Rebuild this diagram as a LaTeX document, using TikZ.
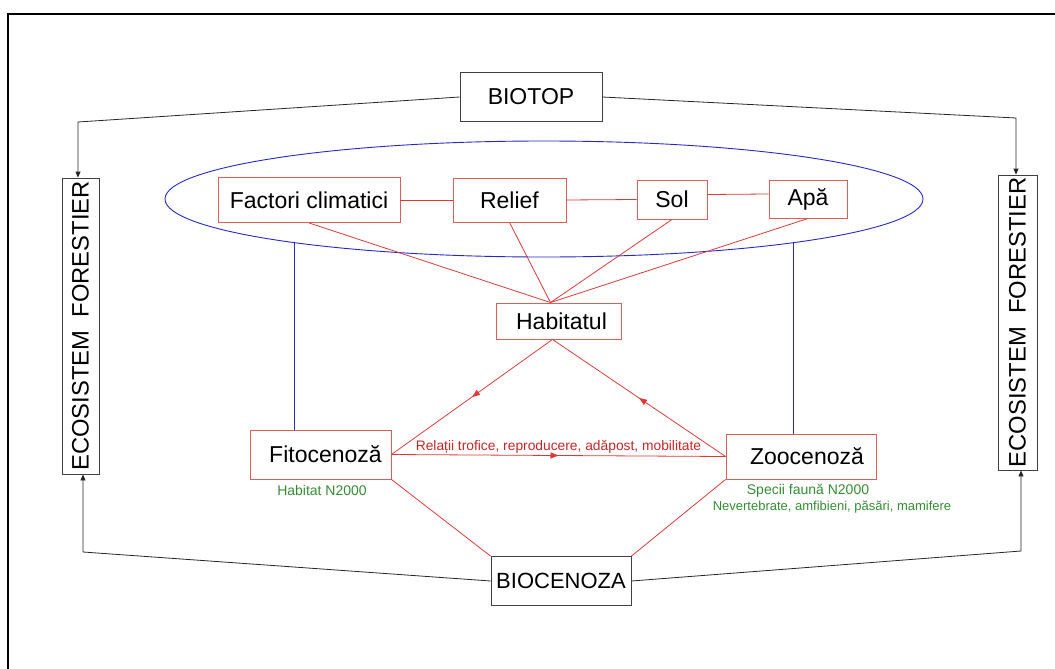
\documentclass[tikz,border=0pt]{standalone}
\usepackage{fontspec}
\setmainfont{Liberation Sans}
\usepackage{tikz}
\usetikzlibrary{shapes.geometric,arrows.meta,decorations.markings}

\definecolor{boxred}{RGB}{222,92,92}
\definecolor{linered}{RGB}{220,58,58}
\definecolor{textred}{RGB}{196,38,38}
\definecolor{textgreen}{RGB}{52,140,52}
\definecolor{ellblue}{RGB}{40,40,200}
\newcommand\setsz[1]{\fontsize{#1}{#1}\selectfont}

\tikzset{
  blackbox/.style={draw=black!75, line width=0.8pt, fill=white, inner sep=0pt},
  redbox/.style={draw=boxred, line width=0.9pt, fill=white, inner sep=0pt, font=\setsz{23}},
  blackline/.style={draw=black!85, line width=0.8pt},
  redline/.style={draw=linered, line width=0.8pt},
  blueline/.style={draw=ellblue, line width=0.8pt},
  greentext/.style={text=textgreen, inner sep=0pt, font=\setsz{14}},
  redtext/.style={text=textred, inner sep=0pt, font=\setsz{13.8}},
  tip/.style={-{Triangle[length=6pt,width=5pt]}},
  midarrow/.style={decoration={markings, mark=at position 0.5 with {\arrow{Triangle[length=8pt,width=6pt]}}}, postaction={decorate}}
}

\begin{document}
\begin{tikzpicture}[x=1pt,y=-1pt]
  \useasboundingbox (0,0) rectangle (1055,669);
  %Frame
  \draw[line width=2.5pt] (8,669) -- (8,14) -- (1055,14);

  %Ellipse of the biotop factors
  \node[ellipse, draw=ellblue, line width=0.9pt, minimum width=758pt, minimum height=116pt, inner sep=0pt] (ell) at (544,199) {};

  %Black boxes
  \node[blackbox, minimum width=142pt, minimum height=49pt, font=\setsz{23}] (biotop) at (531,97) {BIOTOP};
  \node[blackbox, minimum width=140pt, minimum height=49pt, font=\setsz{22}] (biocenoza) at (561,581) {BIOCENOZA};
  \node[blackbox, minimum width=37pt, minimum height=296pt, font=\setsz{23.8}] (ecoL) at (80.5,326) {\rotatebox{90}{ECOSISTEM\ \ FORESTIER}};
  \node[blackbox, minimum width=39pt, minimum height=295pt, font=\setsz{23.8}] (ecoR) at (1017.5,322.5) {\rotatebox{90}{ECOSISTEM\ \ FORESTIER}};

  %Red boxes
  \node[redbox, minimum width=182pt, minimum height=45pt] (factori) at (309,200) {Factori climatici};
  \node[redbox, minimum width=113pt, minimum height=44pt] (relief) at (509.5,200) {Relief};
  \node[redbox, minimum width=70pt, minimum height=39pt] (sol) at (672,199.5) {Sol};
  \node[redbox, minimum width=78pt, minimum height=38pt] (apa) at (808,199) {Apă};
  \node[redbox, minimum width=125pt, minimum height=36pt] (habitatul) at (558.5,321) {\hspace{6pt}Habitatul};
  \node[redbox, minimum width=141pt, minimum height=49pt] (fito) at (320.5,454.5) {\hspace{10pt}Fitocenoză};
  \node[redbox, minimum width=150pt, minimum height=45pt] (zoo) at (801,456.5) {\hspace{12pt}Zoocenoză};

  %Green notes
  \node[greentext] (habN) at (322,490) {Habitat N2000};
  \node[greentext] (specii) at (808,491) {Specii faună N2000};
  \node[greentext, font=\setsz{13}] (nevert) at (832,507) {Nevertebrate, amfibieni, păsări, mamifere};

  %Black connectors
  \coordinate (cTL) at (78,122);
  \coordinate (cTR) at (1016,118);
  \coordinate (cBL) at (83,552);
  \coordinate (cBR) at (1021,551);
  \draw[blackline, tip] (biotop.west) -- (cTL) -- (cTL |- ecoL.north);
  \draw[blackline, tip] (biotop.east) -- (cTR) -- (cTR |- ecoR.north);
  \draw[blackline, tip] (biocenoza.west) -- (cBL) -- (cBL |- ecoL.south);
  \draw[blackline, tip] (biocenoza.east) -- (cBR) -- (cBR |- ecoR.south);

  %Blue connectors
  \draw[blueline] (ell.190.75) -- (ell.190.75 |- fito.north);
  \draw[blueline] (ell.350.5) -- (ell.350.5 |- zoo.north);

  %Red connectors
  \coordinate (hTop) at ([xshift=-8pt]habitatul.north);
  \coordinate (hBot) at ([xshift=-6pt]habitatul.south);
  \foreach \a/\b in {factori/relief, relief/sol}
    \draw[redline] (\a.east) -- (\b.west);
  \draw[redline] ([yshift=5pt]sol.east) -- ([yshift=5pt]apa.west);
  \foreach \a in {factori, relief, sol, apa}
    \draw[redline] (\a.south) -- (hTop);
  \draw[redline, midarrow] (hBot) -- (fito.east);
  \draw[redline, midarrow] (zoo.west) -- (hBot);
  \draw[redline, midarrow] (fito.east) -- node[above=2pt, redtext] (rel) {Relații trofice, reproducere, adăpost, mobilitate} (zoo.west);
  \draw[redline] (fito.south east) -- (biocenoza.north west);
  \draw[redline] (zoo.south west) -- (biocenoza.north east);
\end{tikzpicture}
\end{document}
